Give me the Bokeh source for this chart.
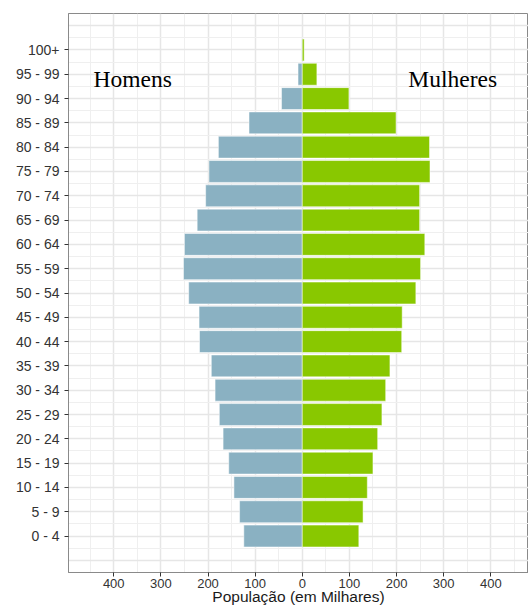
from bokeh.plotting import figure
from bokeh.models import Range1d, FixedTicker, Label, ColumnDataSource
from bokeh.embed import file_html
from bokeh.resources import INLINE

age_groups = ["0 - 4", "5 - 9", "10 - 14", "15 - 19", "20 - 24", "25 - 29",
              "30 - 34", "35 - 39", "40 - 44", "45 - 49", "50 - 54", "55 - 59",
              "60 - 64", "65 - 69", "70 - 74", "75 - 79", "80 - 84", "85 - 89",
              "90 - 94", "95 - 99", "100+"]
men = [124, 133, 145, 156, 168, 176, 185, 193, 218, 219, 241, 252,
       250, 223, 205, 198, 178, 113, 44, 9, 1]
women = [120, 129, 138, 150, 160, 169, 177, 186, 211, 212, 241, 251,
         260, 249, 249, 271, 270, 199, 99, 31, 4]
x_ticks = [-400, -300, -200, -100, 0, 100, 200, 300, 400]
x_tick_labels = ["400", "300", "200", "100", "0", "100", "200", "300", "400"]
x_title = "População (em Milhares)"

idx = list(range(len(age_groups)))
src = ColumnDataSource(dict(
    y=idx,
    men_left=[-v for v in men],
    zero=[0] * len(idx),
    women_right=women,
))

p = figure(width=528, height=607, output_backend="svg", toolbar_location=None,
           x_range=Range1d(-496, 480), y_range=Range1d(-1.5, 21.5),
           min_border_left=68, min_border_right=0, min_border_top=13,
           min_border_bottom=33)
p.background_fill_color = "white"
p.outline_line_color = "#8a8a8a"
p.outline_line_width = 1

p.hbar(y="y", left="men_left", right="zero", height=0.9, source=src,
       fill_color="#8AB1C2", line_color="white", line_width=0.5)
p.hbar(y="y", left="zero", right="women_right", height=0.9, source=src,
       fill_color="#89C800", line_color="white", line_width=0.5)

# axes
p.xaxis.ticker = FixedTicker(ticks=x_ticks)
p.xaxis.major_label_overrides = {t: l for t, l in zip(x_ticks, x_tick_labels)}
p.yaxis.ticker = FixedTicker(ticks=idx)
p.yaxis.major_label_overrides = {i: g for i, g in zip(idx, age_groups)}

for ax in (p.xaxis[0], p.yaxis[0]):
    ax.axis_line_color = "#8a8a8a"
    ax.major_tick_line_color = "#333333"
    ax.major_tick_out = 4
    ax.major_tick_in = 0
    ax.minor_tick_line_color = None
    ax.major_label_text_font = "Liberation Sans"
    ax.major_label_text_color = "#333333"

p.xaxis.major_label_standoff = 2
p.yaxis.major_label_standoff = 5
p.xaxis.major_label_text_font_size = "13px"
p.xaxis.major_label_text_line_height = 1.0
p.yaxis.major_label_text_font_size = "14px"

p.xaxis.axis_label = x_title
p.xaxis.axis_label_text_font = "Liberation Sans"
p.xaxis.axis_label_text_font_style = "normal"
p.xaxis.axis_label_text_font_size = "15.5px"
p.xaxis.axis_label_text_line_height = 1.0
p.xaxis.axis_label_text_color = "#1a1a1a"
p.xaxis.axis_label_standoff = -3

# grid
p.xgrid.ticker = FixedTicker(ticks=[-500, -400, -300, -200, -100, 0, 100, 200, 300, 400, 500],
                             minor_ticks=[-450, -350, -250, -150, -50, 50, 150, 250, 350, 450])
p.ygrid.ticker = FixedTicker(ticks=list(range(-1, 22)),
                             minor_ticks=[i + 0.5 for i in range(-2, 22)])
for g in (p.xgrid[0], p.ygrid[0]):
    g.grid_line_color = "#e6e6e6"
    g.grid_line_width = 1.5
    g.minor_grid_line_color = "#efefef"
    g.minor_grid_line_width = 1

p.add_layout(Label(x=-443, y=18.8, text="Homens", text_font="Liberation Serif",
                   text_font_size="23.5px", text_color="black",
                   text_baseline="alphabetic"))
p.add_layout(Label(x=225, y=18.8, text="Mulheres", text_font="Liberation Serif",
                   text_font_size="23.5px", text_color="black",
                   text_baseline="alphabetic"))

open("out.html", "w").write(file_html(p, INLINE))
